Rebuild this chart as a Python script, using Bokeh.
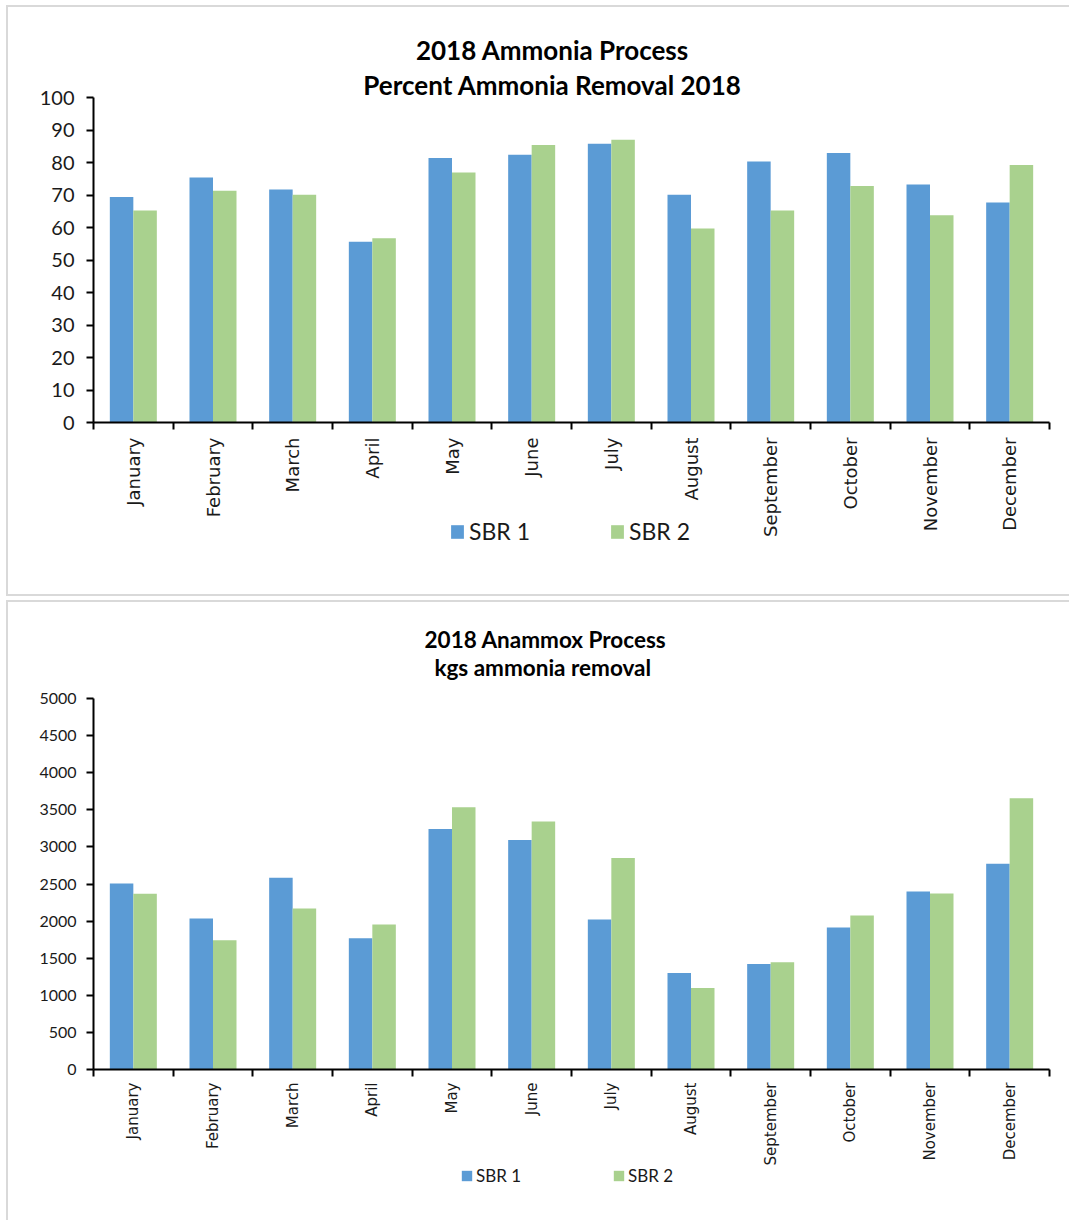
import numpy as np
from bokeh.plotting import figure
from bokeh.layouts import column
from bokeh.models import (Range1d, LinearAxis, FixedTicker, Label, Legend, LegendItem)
from bokeh.embed import file_html
from bokeh.resources import INLINE

months = ["January", "February", "March", "April", "May", "June", "July",
          "August", "September", "October", "November", "December"]
series_names = ["SBR 1", "SBR 2"]

pct_sbr1 = [69.4, 75.4, 71.7, 55.6, 81.4, 82.4, 85.8, 70.1, 80.3, 82.9, 73.2, 67.7]
pct_sbr2 = [65.2, 71.3, 70.1, 56.7, 76.9, 85.4, 87.0, 59.7, 65.2, 72.8, 63.8, 79.2]

kg_sbr1 = [2507, 2034, 2583, 1769, 3240, 3092, 2021, 1301, 1422, 1913, 2399, 2772]
kg_sbr2 = [2367, 1742, 2169, 1953, 3533, 3344, 2849, 1098, 1445, 2075, 2372, 3654]

top_titles = ["2018 Ammonia Process", "Percent Ammonia Removal 2018"]
bottom_titles = ["2018 Anammox Process", "kgs ammonia  removal"]

pct_ticks = list(range(0, 101, 10))
kg_ticks = list(range(0, 5001, 500))

BLUE = "#5B9BD5"
GREEN = "#A9D18E"
COLORS = [BLUE, GREEN]
BORDER = "#D9D9D9"

W = 1063          # element width of every figure
BL, BR = 85, 22   # left / right borders (shared: Bokeh aligns frames in a column)


def make_chart(v1, v2, yticks, cfg):
    n = len(months)
    p = figure(width=W, height=cfg["h"], output_backend="svg",
               toolbar_location=None,
               x_range=Range1d(0, n), y_range=Range1d(yticks[0], yticks[-1]),
               min_border_left=BL, min_border_right=BR,
               min_border_top=cfg["bt"], min_border_bottom=cfg["bb"],
               x_axis_type=None, y_axis_type=None)
    p.grid.visible = False
    p.outline_line_color = None
    p.background_fill_color = "white"
    p.border_fill_color = "white"

    w = 0.295
    centers = np.arange(n) + 0.5
    p.vbar(x=centers - w / 2, top=v1, width=w, bottom=0,
           fill_color=COLORS[0], line_color=None)
    p.vbar(x=centers + w / 2, top=v2, width=w, bottom=0,
           fill_color=COLORS[1], line_color=None)

    xaxis = LinearAxis(ticker=FixedTicker(ticks=list(centers),
                                          minor_ticks=list(range(n + 1))))
    xaxis.major_label_overrides = {float(c): m for c, m in zip(centers, months)}
    xaxis.major_label_orientation = np.pi / 2
    xaxis.major_tick_line_color = None
    xaxis.major_tick_out = 0
    xaxis.major_tick_in = 0
    xaxis.minor_tick_line_color = "black"
    xaxis.minor_tick_line_width = 2
    xaxis.minor_tick_out = 7
    xaxis.minor_tick_in = 0
    xaxis.axis_line_color = "black"
    xaxis.axis_line_width = 2
    xaxis.major_label_standoff = cfg["xstand"]
    xaxis.major_label_text_font = "DejaVu Sans"
    xaxis.major_label_text_font_size = cfg["xfs"]
    xaxis.major_label_text_color = "#1a1a1a"
    p.add_layout(xaxis, "below")

    yaxis = LinearAxis(ticker=FixedTicker(ticks=yticks, minor_ticks=[]))
    yaxis.axis_line_color = "black"
    yaxis.axis_line_width = 2
    yaxis.major_tick_line_color = "black"
    yaxis.major_tick_line_width = 2
    yaxis.major_tick_out = 7
    yaxis.major_tick_in = 0
    yaxis.minor_tick_line_color = None
    yaxis.major_label_standoff = cfg["ystand"]
    yaxis.major_label_text_font = "Lato"
    yaxis.major_label_text_font_size = cfg["yfs"]
    yaxis.major_label_text_color = "#1a1a1a"
    p.add_layout(yaxis, "left")
    return p


def make_overlay(titles, cfg):
    """Transparent figure laid over a chart, so that the titles and the
    legend, which sit outside the chart's frame, are not clipped."""
    H = cfg["h"]
    o = figure(width=W, height=H, output_backend="svg", toolbar_location=None,
               x_range=Range1d(BL, W - BR), y_range=Range1d(H, 0),
               min_border_left=BL, min_border_right=BR,
               min_border_top=0, min_border_bottom=0,
               x_axis_type=None, y_axis_type=None)
    o.grid.visible = False
    o.outline_line_color = None
    o.background_fill_alpha = 0
    o.border_fill_alpha = 0

    for t, ty in zip(titles, cfg["ty"]):
        o.add_layout(Label(x=cfg["tx"], y=ty, text=t, text_align="center",
                           text_baseline="middle", text_font="Lato",
                           text_font_style="bold", text_font_size=cfg["tfs"],
                           text_color="black"))

    nan = np.array([np.nan])
    rs = [o.vbar(x=nan, top=nan, width=1, fill_color=c, line_color=None)
          for c in COLORS]
    legend = Legend(items=[LegendItem(label=s, renderers=[r])
                           for s, r in zip(series_names, rs)],
                    orientation="horizontal", location=cfg["legloc"],
                    padding=0, margin=0, spacing=cfg["legsp"],
                    glyph_width=cfg["gw"], glyph_height=cfg["gh"],
                    label_standoff=cfg["lstand"],
                    label_text_font="Lato", label_text_font_size=cfg["lfs"],
                    label_text_color="#1a1a1a",
                    border_line_color=None, background_fill_alpha=0)
    o.add_layout(legend)
    return o


H1, H2 = 591, 620

p1 = make_chart(pct_sbr1, pct_sbr2, pct_ticks,
                dict(h=H1, bt=90, bb=176, xstand=8, ystand=12,
                     xfs="18px", yfs="20px"))
p1.styles = {"border-top": f"2px solid {BORDER}",
             "border-left": f"2px solid {BORDER}",
             "border-bottom": f"2px solid {BORDER}"}
p1.margin = (5, 0, 0, 6)
o1 = make_overlay(top_titles, dict(h=H1, tx=546, ty=[44, 79], tfs="26px",
                                   legloc=(358, 51), legsp=79, gw=16, gh=17,
                                   lstand=4, lfs="23px"))
o1.margin = (-H1, 0, 0, 6)

p2 = make_chart(kg_sbr1, kg_sbr2, kg_ticks,
                dict(h=H2, bt=96, bb=153, xstand=6, ystand=10,
                     xfs="15px", yfs="16px"))
p2.styles = {"border-top": f"2px solid {BORDER}",
             "border-left": f"2px solid {BORDER}"}
p2.margin = (4, 0, 0, 6)
o2 = make_overlay(bottom_titles, dict(h=H2, tx=539, ty=[39, 67], tfs="22.5px",
                                      legloc=(369, 34), legsp=91, gw=13, gh=13,
                                      lstand=3, lfs="17px"))
o2.margin = (-H2, 0, 0, 6)

layout = column(p1, o1, p2, o2, spacing=0)
open("out.html", "w").write(file_html(layout, INLINE))
